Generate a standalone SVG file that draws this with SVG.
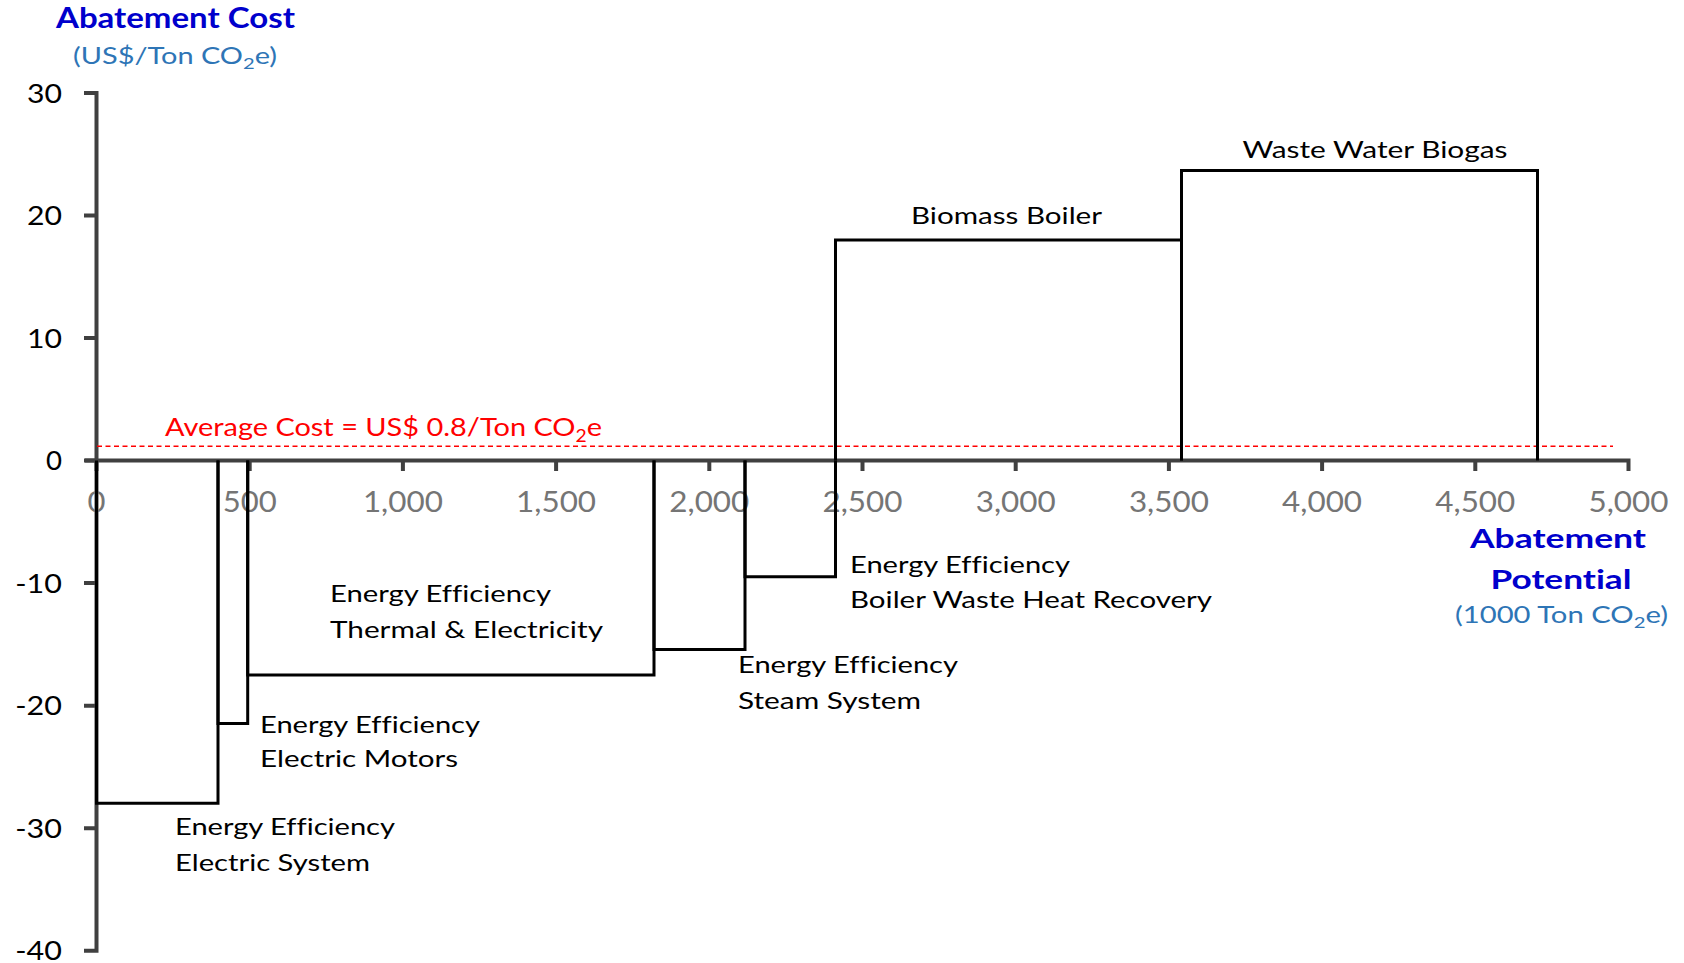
<svg xmlns="http://www.w3.org/2000/svg" width="1684" height="963" viewBox="0 0 1684 963">
<style>
text{font-family:Lato,"Open Sans","Liberation Sans",sans-serif;font-variant-ligatures:none;}
.title{font-weight:bold;fill:#0000CC;}
.unit{fill:#2E75B6;font-size:23px;}
.ylab{font-size:26.5px;fill:#000;text-anchor:end;}
.xlab{font-size:28px;fill:#757575;text-anchor:middle;}
.lab{font-size:23px;fill:#000;}
.axis{fill:none;stroke:#404040;stroke-width:4;stroke-linejoin:miter;}
.bar{fill:none;stroke:#000;stroke-width:3;stroke-linejoin:miter;}
.avg{fill:none;stroke:#FF0000;stroke-width:1.6;stroke-dasharray:5 3.5;}
</style>
<rect width="1684" height="963" fill="#fff"/>

<g id="axes">
<path class="axis" d="M84 93H96.5V950.7H84M84 215.5H96.5M84 338.1H96.5M84 460.6H96.5M84 583.1H96.5M84 705.7H96.5M84 828.2H96.5"/>
<path class="axis" d="M85 460.6H1628.5V471M96.5 460.6V471M249.7 460.6V471M402.9 460.6V471M556.1 460.6V471M709.3 460.6V471M862.5 460.6V471M1015.7 460.6V471M1168.9 460.6V471M1322.1 460.6V471M1475.3 460.6V471"/>
<g id="y-labels">
<text class="ylab" x="62" y="102.5" textLength="35" lengthAdjust="spacingAndGlyphs">30</text>
<text class="ylab" x="62" y="225" textLength="35" lengthAdjust="spacingAndGlyphs">20</text>
<text class="ylab" x="62" y="347.6" textLength="35" lengthAdjust="spacingAndGlyphs">10</text>
<text class="ylab" x="62" y="470.1" textLength="16" lengthAdjust="spacingAndGlyphs">0</text>
<text class="ylab" x="62" y="592.6" textLength="46.7" lengthAdjust="spacingAndGlyphs">-10</text>
<text class="ylab" x="62" y="715.2" textLength="46.7" lengthAdjust="spacingAndGlyphs">-20</text>
<text class="ylab" x="62" y="837.7" textLength="46.7" lengthAdjust="spacingAndGlyphs">-30</text>
<text class="ylab" x="62" y="960.2" textLength="46.7" lengthAdjust="spacingAndGlyphs">-40</text>
</g>
<g id="x-labels">
<text class="xlab" x="96.5" y="511.7" textLength="18" lengthAdjust="spacingAndGlyphs">0</text>
<text class="xlab" x="249.7" y="511.7" textLength="54" lengthAdjust="spacingAndGlyphs">500</text>
<text class="xlab" x="402.9" y="511.7" textLength="80" lengthAdjust="spacingAndGlyphs">1,000</text>
<text class="xlab" x="556.1" y="511.7" textLength="80" lengthAdjust="spacingAndGlyphs">1,500</text>
<text class="xlab" x="709.3" y="511.7" textLength="80" lengthAdjust="spacingAndGlyphs">2,000</text>
<text class="xlab" x="862.5" y="511.7" textLength="80" lengthAdjust="spacingAndGlyphs">2,500</text>
<text class="xlab" x="1015.7" y="511.7" textLength="80" lengthAdjust="spacingAndGlyphs">3,000</text>
<text class="xlab" x="1168.9" y="511.7" textLength="80" lengthAdjust="spacingAndGlyphs">3,500</text>
<text class="xlab" x="1322.1" y="511.7" textLength="80" lengthAdjust="spacingAndGlyphs">4,000</text>
<text class="xlab" x="1475.3" y="511.7" textLength="80" lengthAdjust="spacingAndGlyphs">4,500</text>
<text class="xlab" x="1628.5" y="511.7" textLength="80" lengthAdjust="spacingAndGlyphs">5,000</text>
</g>
</g>

<g id="y-title">
<text class="title" x="56" y="28.3" font-size="28" textLength="239" lengthAdjust="spacingAndGlyphs">Abatement Cost</text>
<text class="unit" x="73" y="64.3" textLength="204" lengthAdjust="spacingAndGlyphs">(US$/Ton CO<tspan font-size="16" dy="5">2</tspan><tspan dy="-5">e)</tspan></text>
</g>

<g id="x-title">
<text class="title" x="1558" y="548" font-size="27" text-anchor="middle" textLength="176" lengthAdjust="spacingAndGlyphs">Abatement</text>
<text class="title" x="1561" y="589" font-size="27" text-anchor="middle" textLength="141" lengthAdjust="spacingAndGlyphs">Potential</text>
<text class="unit" x="1561.5" y="623" text-anchor="middle" textLength="213" lengthAdjust="spacingAndGlyphs">(1000 Ton CO<tspan font-size="16" dy="5">2</tspan><tspan dy="-5">e)</tspan></text>
</g>

<g id="average-cost">
<path class="avg" d="M97 446.3H1613"/>
<text x="165" y="435.7" font-size="25.5" fill="#FF0000" textLength="437" lengthAdjust="spacingAndGlyphs">Average Cost = US$ 0.8/Ton CO<tspan font-size="17" dy="6">2</tspan><tspan dy="-6">e</tspan></text>
</g>

<g id="ee-electric-system">
<path class="bar" d="M96.5 460.6V803.3H218V460.6"/>
<text class="lab" x="175" y="835" textLength="220" lengthAdjust="spacingAndGlyphs">Energy Efficiency</text>
<text class="lab" x="175" y="870.5" textLength="195" lengthAdjust="spacingAndGlyphs">Electric System</text>
</g>

<g id="ee-electric-motors">
<path class="bar" d="M218 460.6V723.5H247.7V460.6"/>
<text class="lab" x="260" y="733.3" textLength="220" lengthAdjust="spacingAndGlyphs">Energy Efficiency</text>
<text class="lab" x="260" y="767" textLength="198" lengthAdjust="spacingAndGlyphs">Electric Motors</text>
</g>

<g id="ee-thermal-electricity">
<path class="bar" d="M247.7 460.6V675H654V460.6"/>
<text class="lab" x="330" y="602.3" textLength="221" lengthAdjust="spacingAndGlyphs">Energy Efficiency</text>
<text class="lab" x="330" y="638" textLength="273" lengthAdjust="spacingAndGlyphs">Thermal &amp; Electricity</text>
</g>

<g id="ee-steam-system">
<path class="bar" d="M654 460.6V649.5H745V460.6"/>
<text class="lab" x="738" y="673.3" textLength="220" lengthAdjust="spacingAndGlyphs">Energy Efficiency</text>
<text class="lab" x="738" y="709" textLength="183" lengthAdjust="spacingAndGlyphs">Steam System</text>
</g>

<g id="ee-boiler-waste-heat">
<path class="bar" d="M745 460.6V576.7H835.5V460.6"/>
<text class="lab" x="850" y="573.3" textLength="220" lengthAdjust="spacingAndGlyphs">Energy Efficiency</text>
<text class="lab" x="850" y="608.3" textLength="362" lengthAdjust="spacingAndGlyphs">Boiler Waste Heat Recovery</text>
</g>

<g id="biomass-boiler">
<path class="bar" d="M835.5 460.6V240H1181.5V460.6"/>
<text class="lab" x="911" y="224.3" textLength="191" lengthAdjust="spacingAndGlyphs">Biomass Boiler</text>
</g>

<g id="waste-water-biogas">
<path class="bar" d="M1181.5 460.6V170.5H1537.5V460.6"/>
<text class="lab" x="1242.5" y="158.3" textLength="265" lengthAdjust="spacingAndGlyphs">Waste Water Biogas</text>
</g>
</svg>
